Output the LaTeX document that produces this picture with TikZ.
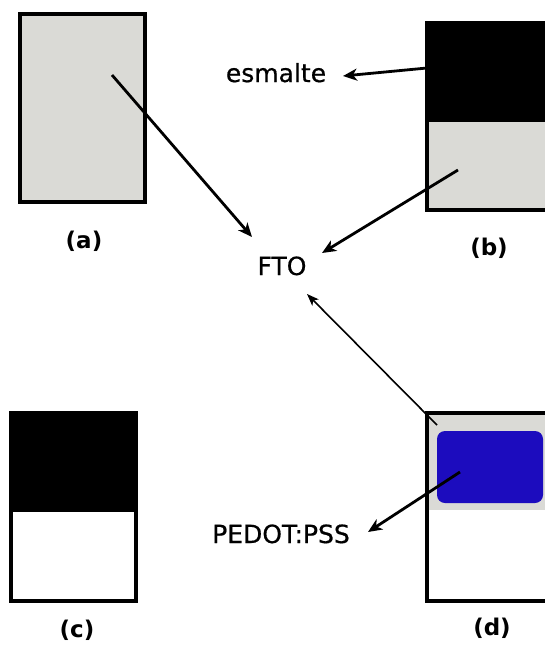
\documentclass[tikz,border=0pt]{standalone}
\usepackage{fontspec}
\setmainfont{DejaVu Sans}
\newfontfamily\tagfont[FakeBold=0.6]{DejaVu Sans}
\usetikzlibrary{arrows.meta}

\definecolor{ftogray}{RGB}{218,218,214}
\definecolor{pedotblue}{RGB}{28,12,190}

\begin{document}
\begin{tikzpicture}[x=1pt,y=-1pt,
  frame/.style={draw=black,line width=3.4pt},
  conn/.style={-{Stealth[length=14pt,width=12pt,inset=4pt]},line width=2.8pt},
  thinconn/.style={-{Stealth[length=12pt,width=9pt,inset=3pt]},line width=1.6pt},
  caption/.style={font=\bfseries\fontsize{23}{23}\selectfont,inner sep=0pt},
  tag/.style={font=\tagfont\fontsize{25}{25}\selectfont,inner sep=0pt,anchor=base}]
\useasboundingbox (0,0) rectangle (545,646);
\fill[white] (0,0) rectangle (545,646);
\begin{scope}
\clip (0,0) rectangle (545,646);

% sample (a): bare FTO glass
\fill[ftogray] (20,14) rectangle (145,202);
\draw[frame] (20,14) rectangle (145,202);
\coordinate (pa) at (112,75);

% sample (b): enamel over FTO
\fill[black] (427,23) rectangle (560,122);
\fill[ftogray] (427,122) rectangle (560,210);
\draw[frame] (427,23) rectangle (560,210);
\coordinate (pbtop) at (427,68);
\coordinate (pbfto) at (458,170);

% sample (c): enamel over clear glass
\fill[black] (11,413) rectangle (136,512);
\draw[frame] (11,413) rectangle (136,601);

% sample (d): PEDOT:PSS on FTO
\fill[ftogray] (427,413) rectangle (560,510);
\fill[pedotblue,rounded corners=8pt] (437,431) rectangle (543,503);
\draw[frame] (427,413) rectangle (560,601);
\coordinate (pdfto) at (437,425);
\coordinate (pdpedot) at (460,472);
\end{scope}

% captions
\node[caption] (capa) at (84,241) {(a)};
\node[caption] (capb) at (489,248) {(b)};
\node[caption] (capc) at (77,630) {(c)};
\node[caption] (capd) at (492,628) {(d)};

% material names
\node[tag] (esm) at (276,82) {esmalte};
\node[tag] (fto) at (282,275) {FTO};
\node[tag] (pedot) at (281,543) {PEDOT:PSS};

\coordinate (ftoa) at (252,237);
\coordinate (ftob) at (322,253);
\coordinate (ftod) at (307,294);
\coordinate (esmtip) at (343,76);
\coordinate (pedottip) at (368,532);

% connectors
\draw[conn] (pa) -- (ftoa);
\draw[conn] (pbfto) -- (ftob);
\draw[conn] (pbtop) -- (esmtip);
\draw[thinconn] (pdfto) -- (ftod);
\draw[conn] (pdpedot) -- (pedottip);
\end{tikzpicture}
\end{document}
